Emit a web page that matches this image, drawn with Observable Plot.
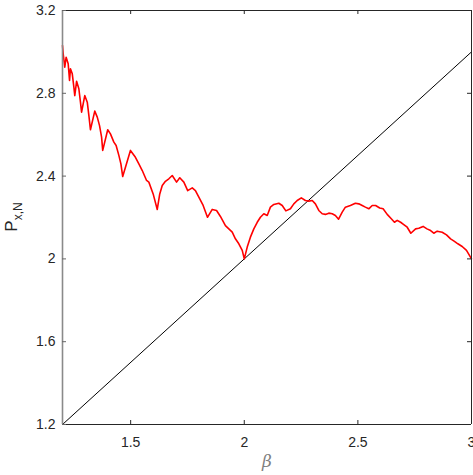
<!DOCTYPE html>
<html>
<head>
<meta charset="utf-8">
<script src="https://cdn.jsdelivr.net/npm/d3@7"></script>
<script src="https://cdn.jsdelivr.net/npm/@observablehq/plot@0.6"></script>
<style>
  html, body { margin: 0; padding: 0; background: #fff; }
  #chart svg { display: block; }
</style>
</head>
<body>
<div id="chart"></div>
<script>
const beta = [1.200,1.203,1.210,1.216,1.225,1.231,1.235,1.243,1.250,1.254,1.262,1.272,1.279,1.284,1.298,1.309,1.316,1.323,1.342,1.353,1.363,1.372,1.377,1.399,1.411,1.426,1.436,1.448,1.457,1.465,1.499,1.521,1.536,1.551,1.570,1.580,1.599,1.617,1.628,1.639,1.653,1.668,1.683,1.702,1.716,1.734,1.751,1.771,1.785,1.800,1.819,1.838,1.859,1.878,1.895,1.917,1.932,1.947,1.961,1.976,1.991,2.000,2.013,2.027,2.042,2.057,2.071,2.086,2.101,2.115,2.130,2.152,2.167,2.183,2.203,2.218,2.233,2.251,2.269,2.284,2.299,2.313,2.328,2.343,2.357,2.372,2.387,2.401,2.415,2.431,2.445,2.467,2.489,2.504,2.519,2.533,2.548,2.563,2.578,2.596,2.611,2.629,2.647,2.661,2.673,2.688,2.702,2.717,2.733,2.754,2.768,2.787,2.804,2.820,2.834,2.849,2.871,2.890,2.908,2.925,2.940,2.959,2.978,3.000];
const P = [3.031,2.991,2.926,2.974,2.943,2.862,2.918,2.894,2.830,2.789,2.858,2.822,2.757,2.709,2.789,2.757,2.693,2.624,2.714,2.685,2.644,2.588,2.524,2.624,2.604,2.564,2.548,2.500,2.459,2.398,2.524,2.491,2.459,2.427,2.379,2.371,2.314,2.239,2.314,2.355,2.375,2.387,2.403,2.371,2.392,2.371,2.330,2.343,2.330,2.298,2.258,2.201,2.239,2.234,2.205,2.161,2.145,2.129,2.097,2.073,2.041,2.000,2.057,2.105,2.145,2.177,2.201,2.218,2.210,2.250,2.263,2.269,2.258,2.232,2.242,2.266,2.282,2.295,2.282,2.279,2.282,2.266,2.234,2.218,2.215,2.221,2.218,2.210,2.192,2.226,2.250,2.258,2.269,2.266,2.258,2.250,2.242,2.258,2.258,2.246,2.242,2.215,2.194,2.177,2.186,2.177,2.166,2.153,2.124,2.145,2.148,2.157,2.145,2.137,2.124,2.134,2.129,2.116,2.097,2.085,2.073,2.060,2.041,2.000];
const diagX = [1.2, 3];
const diagY = [1.2, 3];
const xTicks = [1.5, 2, 2.5, 3];
const yTicks = [1.2, 1.6, 2, 2.4, 2.8, 3.2];
const xDomain = [1.2, 3];
const yDomain = [1.2, 3.2];

const W = 473, H = 475, mL = 62, mR = 2, mT = 10, mB = 51;
const curve = beta.map((b, i) => ({beta: b, P: P[i]}));
const diag = diagX.map((x, i) => ({x, y: diagY[i]}));
// tick length of 4px expressed in data units
const tx = 4 * (xDomain[1] - xDomain[0]) / (W - mL - mR);
const ty = 4 * (yDomain[1] - yDomain[0]) / (H - mT - mB);
const axisCol = "#262626";
const font = "'Liberation Sans', Arial, Helvetica, sans-serif";

const svg = Plot.plot({
  width: W, height: H,
  marginLeft: mL, marginRight: mR, marginTop: mT, marginBottom: mB,
  style: {fontFamily: font, background: "#fff", overflow: "visible"},
  x: {domain: xDomain, axis: null},
  y: {domain: yDomain, axis: null},
  marks: [
    Plot.line(diag, {x: "x", y: "y", stroke: "#000", strokeWidth: 1}),
    Plot.line(curve, {x: "beta", y: "P", stroke: "#ff0000", strokeWidth: 1.6, strokeLinejoin: "round"}),
    // box
    Plot.ruleY([yDomain[0]], {stroke: axisCol, strokeWidth: 1}),
    Plot.ruleY([yDomain[1]], {stroke: axisCol, strokeWidth: 1}),
    Plot.ruleX([xDomain[1]], {stroke: axisCol, strokeWidth: 1}),
    Plot.ruleX([xDomain[0]], {stroke: "#8a8a8a", strokeWidth: 1.6}),
    // inward ticks
    Plot.ruleX(xTicks, {y1: yDomain[0], y2: yDomain[0] + ty, stroke: axisCol}),
    Plot.ruleX(xTicks, {y1: yDomain[1], y2: yDomain[1] - ty, stroke: axisCol}),
    Plot.ruleY(yTicks, {x1: xDomain[0], x2: xDomain[0] + tx, stroke: "#666"}),
    Plot.ruleY(yTicks, {x1: xDomain[1], x2: xDomain[1] - tx, stroke: axisCol}),
    // tick labels
    Plot.text(xTicks, {x: d => d, y: () => yDomain[0], dy: 18, text: d => String(d), fontSize: 14, fill: axisCol, textAnchor: "middle"}),
    Plot.text(yTicks, {x: () => xDomain[0], y: d => d, dx: -7, text: d => String(d), fontSize: 14, fill: axisCol, textAnchor: "end"}),
    // x label
    Plot.text(["β"], {frameAnchor: "bottom", dy: 42, text: d => d, fontSize: 17, fontStyle: "italic", fill: "#808080", fontFamily: "'DejaVu Serif', serif"})
  ]
});

// y label with subscript
const lab = d3.select(svg).append("text")
  .attr("transform", `translate(17,${mT + (H - mT - mB) / 2}) rotate(-90)`)
  .attr("text-anchor", "middle")
  .attr("font-family", font)
  .attr("font-size", 17)
  .attr("fill", axisCol);
lab.append("tspan").text("P");
lab.append("tspan").attr("font-size", 12).attr("dy", 5).text("x,N");

document.getElementById("chart").appendChild(svg);
</script>
</body>
</html>
